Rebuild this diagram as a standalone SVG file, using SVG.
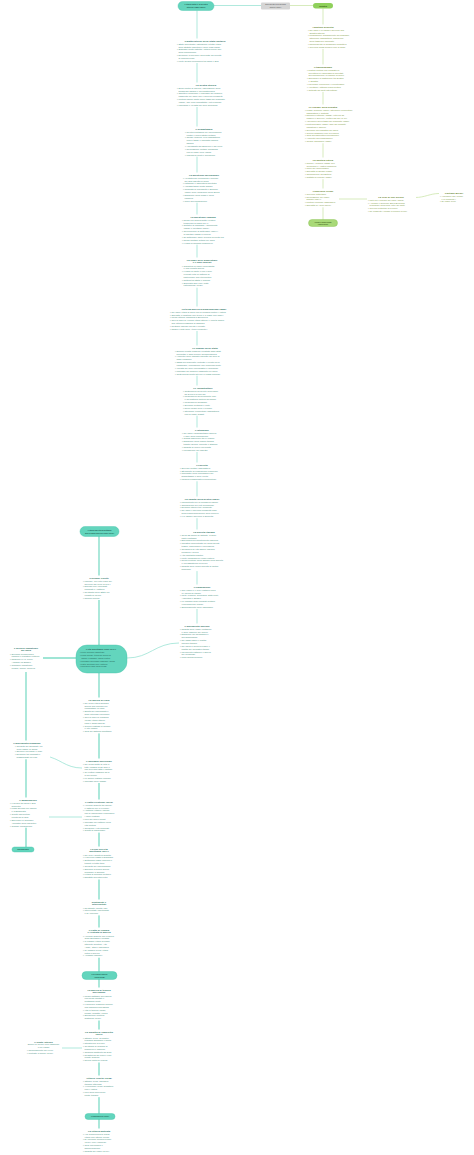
<svg xmlns="http://www.w3.org/2000/svg" width="474" height="1155" viewBox="0 0 474 1155">
<style>
.t{font-family:"Liberation Sans",Arial,sans-serif;font-size:2.3px;fill:#4d9486}
.h{font-family:"Liberation Sans",Arial,sans-serif;font-size:2.5px;font-weight:bold;fill:#2f7466;text-anchor:middle}
.tg{fill:#7f9d4a}
.hg{fill:#5f7f2a}
.bg{fill:#fff}
.pill{fill:#63d5bd;stroke:#45c2a8;stroke-width:0.4}
.pt{font-family:"Liberation Sans",Arial,sans-serif;font-size:2.1px;font-weight:bold;fill:#1f5e52;text-anchor:middle}
.pb{font-family:"Liberation Sans",Arial,sans-serif;font-size:2.1px;fill:#1f5e52}
.lt{stroke:#8ee0ce;fill:none;stroke-width:0.7}
.lk{stroke:#7fdcc7;fill:none;stroke-width:1.3}
.lg{stroke:#c5e2a0;fill:none;stroke-width:0.7}
</style>
<rect width="474" height="1155" fill="#fff"/>
<g id="connectors">
<path class="lt" d="M214,5.5 H261"/>
<path class="lg" d="M290,5.5 H313"/>
<path class="lt" d="M197,10.5 V626"/>
<path class="lg" d="M323,8.5 V220"/>
<path class="lg" d="M339,199 H367"/>
<path class="lg" d="M415,197.5 C425,197.5 430,193.5 439,193.5"/>
<path class="lk" d="M99,536 V1130"/>
<path class="lk" d="M77,658 H43"/>
<path class="lk" d="M26,672 V847"/>
<path class="lt" d="M45,756 C60,758 65,768 82,768"/>
<path class="lt" d="M49,817 H82"/>
<path class="lt" d="M61,1048 H82"/>
<path class="lt" d="M127,658 C150,658 155,643 179,643"/>
</g>

<g id="top-main">
<rect class="pill" x="178" y="1.5" width="36" height="9" rx="4.5"/>
<text class="pt" x="196" y="5.3">L'Italia unita e la Destra</text>
<text class="pt" x="196" y="8.3">storica (1861-1876)</text>
</g>
<g id="top-grey">
<rect x="261" y="2.5" width="29" height="7" rx="1" fill="#d5d5d5"/>
<text class="pb" x="275.5" y="5.4" style="font-size:1.9px;fill:#555;text-anchor:middle">Dalla Destra alla Sinistra</text>
<text class="pb" x="275.5" y="8" style="font-size:1.9px;fill:#555;text-anchor:middle">storica (1876)</text>
</g>
<g id="top-green">
<rect x="313" y="3" width="20" height="5.5" rx="2.75" fill="#8fd05b"/>
<text class="pt" x="323" y="6.6" style="fill:#2f4d12">Sinistra</text>
</g>

<g id="c1">
<rect class="bg" x="176" y="38.5" width="58" height="24.5"/>
<text class="h" x="205" y="41.5">Caratteristiche dello Stato unitario</text>
<text class="t" y="44.7"><tspan x="177">• Stato accentrato: estensione a tutta l'Italia</tspan><tspan x="178.5" dy="2.85">dello Statuto albertino e delle leggi sarde</tspan><tspan x="177" dy="2.85">• Suffragio molto ristretto: votava circa il 2%</tspan><tspan x="178.5" dy="2.85">della popolazione</tspan><tspan x="177" dy="2.85">• Divisione in province governate da prefetti</tspan><tspan x="178.5" dy="2.85">di nomina regia</tspan><tspan x="177" dy="2.85">• Forte divario economico tra Nord e Sud</tspan></text>
</g>
<g id="c2">
<rect class="bg" x="176" y="82.5" width="60" height="24.5"/>
<text class="h" x="206" y="85.5">La Destra storica</text>
<text class="t" y="88.7"><tspan x="177">• Eredi politici di Cavour, espressione della</tspan><tspan x="178.5" dy="2.85">borghesia agraria e dell'aristocrazia</tspan><tspan x="177" dy="2.85">• Obiettivo principale: il pareggio del bilancio,</tspan><tspan x="178.5" dy="2.85">raggiunto nel 1876 con il governo Minghetti</tspan><tspan x="177" dy="2.85">• Politica fiscale molto dura: tassa sul macinato</tspan><tspan x="178.5" dy="2.85">(1868), che colpì soprattutto i ceti popolari</tspan><tspan x="177" dy="2.85">• Liberismo e vendita dei beni demaniali</tspan></text>
</g>
<g id="c3">
<rect class="bg" x="184" y="126.5" width="40" height="30.2"/>
<text class="h" x="204" y="129.5">Il brigantaggio</text>
<text class="t" y="132.7"><tspan x="185">• Rivolta contadina nel Mezzogiorno</tspan><tspan x="186.5" dy="2.85">contro il nuovo Stato unitario</tspan><tspan x="185" dy="2.85">• Cause: miseria, leva obbligatoria,</tspan><tspan x="186.5" dy="2.85">nuove tasse e mancata riforma</tspan><tspan x="186.5" dy="2.85">agraria</tspan><tspan x="185" dy="2.85">• Appoggiato dai Borbone e dal clero</tspan><tspan x="185" dy="2.85">• Repressione militare durissima</tspan><tspan x="186.5" dy="2.85">con la legge Pica (1863)</tspan><tspan x="185" dy="2.85">• Migliaia di morti e fucilazioni</tspan></text>
</g>
<g id="c4">
<rect class="bg" x="182" y="172.5" width="44" height="30.2"/>
<text class="h" x="204" y="175.5">La questione meridionale</text>
<text class="t" y="178.7"><tspan x="183">• Arretratezza economica e sociale</tspan><tspan x="184.5" dy="2.85">del Sud rispetto al Nord</tspan><tspan x="183" dy="2.85">• Latifondo e agricoltura arretrata</tspan><tspan x="183" dy="2.85">• Analfabetismo molto diffuso</tspan><tspan x="183" dy="2.85">• Inchiesta di Franchetti e Sonnino</tspan><tspan x="184.5" dy="2.85">(1876) sulle condizioni della Sicilia</tspan><tspan x="183" dy="2.85">• Diffusione della mafia e della</tspan><tspan x="184.5" dy="2.85">camorra</tspan><tspan x="183" dy="2.85">• Inizio dell'emigrazione</tspan></text>
</g>
<g id="c5">
<rect class="bg" x="181" y="214.5" width="45" height="30.2"/>
<text class="h" x="203" y="217.5">La questione romana</text>
<text class="t" y="220.7"><tspan x="182">• Roma era ancora sotto il potere</tspan><tspan x="183.5" dy="2.85">temporale di papa Pio IX</tspan><tspan x="182" dy="2.85">• Tentativi di Garibaldi: Aspromonte</tspan><tspan x="183.5" dy="2.85">(1862) e Mentana (1867)</tspan><tspan x="182" dy="2.85">• Convenzione di settembre (1864):</tspan><tspan x="183.5" dy="2.85">la capitale passa a Firenze</tspan><tspan x="182" dy="2.85">• 20 settembre 1870: breccia di Porta Pia</tspan><tspan x="182" dy="2.85">• Roma capitale d'Italia nel 1871</tspan><tspan x="182" dy="2.85">• Il papa si dichiara prigioniero</tspan></text>
</g>
<g id="c6">
<rect class="bg" x="181" y="257.5" width="43" height="30.2"/>
<text class="h" x="202" y="260.5">La legge delle guarentigie</text>
<text class="h" x="202" y="263.3">e il Non expedit</text>
<text class="t" y="266.5"><tspan x="182">• Garantiva al papa l'inviolabilità</tspan><tspan x="183.5" dy="2.85">e una rendita annua</tspan><tspan x="182" dy="2.85">• Il papa la rifiutò e con il Non</tspan><tspan x="183.5" dy="2.85">expedit vietò ai cattolici di</tspan><tspan x="183.5" dy="2.85">partecipare alla vita politica</tspan><tspan x="182" dy="2.85">• Rottura tra Stato e Chiesa</tspan><tspan x="182" dy="2.85">• Superata solo con i Patti</tspan><tspan x="183.5" dy="2.85">Lateranensi (1929)</tspan></text>
</g>
<g id="c7">
<rect class="bg" x="169" y="306.5" width="70" height="24.5"/>
<text class="h" x="204" y="309.5">La terza guerra d'indipendenza (1866)</text>
<text class="t" y="312.7"><tspan x="170">• Nel 1866 l'Italia si allea con la Prussia contro l'Austria</tspan><tspan x="170" dy="2.85">• Sconfitte a Custoza (per terra) e a Lissa (per mare)</tspan><tspan x="170" dy="2.85">• Unica vittoria: Garibaldi a Bezzecca</tspan><tspan x="170" dy="2.85">• Con la pace di Vienna l'Italia ottiene il Veneto grazie</tspan><tspan x="171.5" dy="2.85">alla vittoria prussiana di Sadowa</tspan><tspan x="170" dy="2.85">• Restano escluse Trento e Trieste</tspan><tspan x="170" dy="2.85">• Nasce il mito delle «terre irredente»</tspan></text>
</g>
<g id="c8">
<rect class="bg" x="174" y="345.5" width="62" height="30.2"/>
<text class="h" x="205" y="348.5">Le finanze dello Stato</text>
<text class="t" y="351.7"><tspan x="175">• Enorme debito pubblico ereditato dagli Stati</tspan><tspan x="176.5" dy="2.85">preunitari e dalle guerre d'indipendenza</tspan><tspan x="175" dy="2.85">• Aumento delle imposte indirette sui beni di</tspan><tspan x="176.5" dy="2.85">largo consumo</tspan><tspan x="175" dy="2.85">• Tassa sul macinato: proteste e rivolte nelle</tspan><tspan x="176.5" dy="2.85">campagne, repressione con numerosi morti</tspan><tspan x="175" dy="2.85">• Vendita dei beni ecclesiastici e demaniali</tspan><tspan x="175" dy="2.85">• Pareggio del bilancio raggiunto nel 1876</tspan><tspan x="175" dy="2.85">• Costi sociali molto alti per le classi popolari</tspan></text>
</g>
<g id="c9">
<rect class="bg" x="182" y="385.5" width="42" height="30.2"/>
<text class="h" x="203" y="388.5">Le infrastrutture</text>
<text class="t" y="391.7"><tspan x="183">• Costruzione della rete ferroviaria:</tspan><tspan x="184.5" dy="2.85">da 2.000 a 8.000 km</tspan><tspan x="183" dy="2.85">• Unificazione della moneta (lira)</tspan><tspan x="184.5" dy="2.85">e del sistema metrico decimale</tspan><tspan x="183" dy="2.85">• Unificazione doganale</tspan><tspan x="183" dy="2.85">• Sviluppo di strade e porti</tspan><tspan x="183" dy="2.85">• Nuovi codici civile e penale</tspan><tspan x="183" dy="2.85">• Istruzione elementare obbligatoria</tspan><tspan x="184.5" dy="2.85">con la legge Casati</tspan></text>
</g>
<g id="c10">
<rect class="bg" x="181" y="427.5" width="42" height="24.5"/>
<text class="h" x="202" y="430.5">L'istruzione</text>
<text class="t" y="433.7"><tspan x="182">• Nel 1861 l'analfabetismo supera</tspan><tspan x="183.5" dy="2.85">il 75% della popolazione</tspan><tspan x="182" dy="2.85">• Grandi differenze tra le regioni</tspan><tspan x="182" dy="2.85">• Diffusione della lingua italiana</tspan><tspan x="183.5" dy="2.85">tramite scuola, esercito e stampa</tspan><tspan x="182" dy="2.85">• Nascita di nuove università</tspan><tspan x="182" dy="2.85">• Formazione dei maestri</tspan></text>
</g>
<g id="c11">
<rect class="bg" x="179" y="462.5" width="47" height="18.8"/>
<text class="h" x="202" y="465.5">L'esercito</text>
<text class="t" y="468.7"><tspan x="180">• Servizio militare obbligatorio</tspan><tspan x="180" dy="2.85">• Strumento di unificazione nazionale</tspan><tspan x="180" dy="2.85">• Impiegato nella repressione del</tspan><tspan x="181.5" dy="2.85">brigantaggio e delle rivolte</tspan><tspan x="180" dy="2.85">• Modello organizzativo piemontese</tspan></text>
</g>
<g id="c12">
<rect class="bg" x="179" y="496.5" width="47" height="21.7"/>
<text class="h" x="202" y="499.5">La caduta della Destra (1876)</text>
<text class="t" y="502.7"><tspan x="180">• Malcontento per la pressione fiscale</tspan><tspan x="180" dy="2.85">• Opposizione dei ceti meridionali</tspan><tspan x="180" dy="2.85">• Divisioni interne tra i moderati</tspan><tspan x="180" dy="2.85">• Nel 1876 il governo Minghetti cade</tspan><tspan x="181.5" dy="2.85">sulla nazionalizzazione delle ferrovie</tspan><tspan x="180" dy="2.85">• Il re affida il governo a Depretis</tspan></text>
</g>
<g id="c13">
<rect class="bg" x="179" y="529.5" width="50" height="41.6"/>
<text class="h" x="204" y="532.5">La società italiana</text>
<text class="t" y="535.7"><tspan x="180">• Circa 22 milioni di abitanti, in gran</tspan><tspan x="181.5" dy="2.85">parte contadini</tspan><tspan x="180" dy="2.85">• Economia prevalentemente agricola</tspan><tspan x="180" dy="2.85">• Industria concentrata nel Nord-Ovest:</tspan><tspan x="181.5" dy="2.85">tessile, siderurgica e meccanica</tspan><tspan x="180" dy="2.85">• Condizioni di vita difficili: malaria,</tspan><tspan x="181.5" dy="2.85">pellagra e colera</tspan><tspan x="180" dy="2.85">• Alta mortalità infantile</tspan><tspan x="180" dy="2.85">• Forte emigrazione verso l'estero</tspan><tspan x="180" dy="2.85">• Ruolo centrale della Chiesa nella società</tspan><tspan x="181.5" dy="2.85">e nell'assistenza ai poveri</tspan><tspan x="180" dy="2.85">• Nascita delle prime società di mutuo</tspan><tspan x="181.5" dy="2.85">soccorso</tspan></text>
</g>
<g id="c14">
<rect class="bg" x="179" y="584.5" width="47" height="24.5"/>
<text class="h" x="202" y="587.5">L'emigrazione</text>
<text class="t" y="590.7"><tspan x="180">• Tra il 1876 e il 1914 partono circa</tspan><tspan x="181.5" dy="2.85">14 milioni di italiani</tspan><tspan x="180" dy="2.85">• Mete: Francia, Germania, Stati Uniti,</tspan><tspan x="181.5" dy="2.85">Argentina e Brasile</tspan><tspan x="180" dy="2.85">• Le rimesse degli emigrati aiutano</tspan><tspan x="181.5" dy="2.85">l'economia del Paese</tspan><tspan x="180" dy="2.85">• Spopolamento delle campagne</tspan></text>
</g>
<g id="c15">
<rect class="bg" x="179" y="623.5" width="37" height="35.9"/>
<text class="h" x="197" y="626.5">Il movimento operaio</text>
<text class="t" y="629.7"><tspan x="180">• Nascita delle leghe contadine</tspan><tspan x="181.5" dy="2.85">e delle Camere del lavoro</tspan><tspan x="180" dy="2.85">• Diffusione del socialismo e</tspan><tspan x="181.5" dy="2.85">dell'anarchismo</tspan><tspan x="180" dy="2.85">• Nel 1882 nasce il Partito</tspan><tspan x="181.5" dy="2.85">operaio italiano</tspan><tspan x="180" dy="2.85">• Nel 1892 a Genova nasce il</tspan><tspan x="181.5" dy="2.85">Partito dei lavoratori italiani</tspan><tspan x="180" dy="2.85">• Movimento cattolico e Opera</tspan><tspan x="181.5" dy="2.85">dei congressi</tspan><tspan x="180" dy="2.85">• Primi grandi scioperi</tspan></text>
</g>

<g id="r1">
<rect class="bg" x="307" y="24.5" width="49" height="24.5"/>
<text class="h hg" x="323" y="27.5">Agostino Depretis</text>
<text class="t tg" y="30.7"><tspan x="308">• Nel 1876 il re affida il governo alla</tspan><tspan x="309.5" dy="2.85">Sinistra storica</tspan><tspan x="308" dy="2.85">• Programma: allargamento del suffragio,</tspan><tspan x="309.5" dy="2.85">istruzione obbligatoria, abolizione</tspan><tspan x="309.5" dy="2.85">della tassa sul macinato</tspan><tspan x="308" dy="2.85">• Rappresenta la borghesia produttiva</tspan><tspan x="308" dy="2.85">• Governa quasi sempre fino al 1887</tspan></text>
</g>
<g id="r2">
<rect class="bg" x="306" y="64.5" width="48" height="27.4"/>
<text class="h hg" x="323" y="67.5">Il trasformismo</text>
<text class="t tg" y="70.7"><tspan x="307">• Pratica politica che consisteva</tspan><tspan x="308.5" dy="2.85">nell'ottenere l'appoggio di deputati</tspan><tspan x="308.5" dy="2.85">dell'opposizione in cambio di favori</tspan><tspan x="307" dy="2.85">• Scompare la distinzione tra Destra</tspan><tspan x="308.5" dy="2.85">e Sinistra</tspan><tspan x="307" dy="2.85">• Favorisce corruzione e clientelismo</tspan><tspan x="307" dy="2.85">• Allontana i cittadini dalla politica</tspan><tspan x="307" dy="2.85">• Criticato da molti intellettuali</tspan></text>
</g>
<g id="r3">
<rect class="bg" x="304" y="104.5" width="52" height="38.8"/>
<text class="h hg" x="323" y="107.5">Le riforme della Sinistra</text>
<text class="t tg" y="110.7"><tspan x="305">• Legge Coppino (1877): istruzione elementare</tspan><tspan x="306.5" dy="2.85">obbligatoria e gratuita</tspan><tspan x="305" dy="2.85">• Riforma elettorale (1882): vota chi sa</tspan><tspan x="306.5" dy="2.85">leggere e scrivere, elettori dal 2% al 7%</tspan><tspan x="305" dy="2.85">• Abolizione della tassa sul macinato (1880)</tspan><tspan x="305" dy="2.85">• Protezionismo (1887): dazi sui prodotti</tspan><tspan x="306.5" dy="2.85">industriali e agricoli</tspan><tspan x="305" dy="2.85">• Sviluppo dell'industria del Nord</tspan><tspan x="305" dy="2.85">• Guerra doganale con la Francia</tspan><tspan x="305" dy="2.85">• Crisi dell'agricoltura meridionale</tspan><tspan x="305" dy="2.85">• Aumento dell'emigrazione</tspan><tspan x="305" dy="2.85">• Codice Zanardelli (1889)</tspan></text>
</g>
<g id="r4">
<rect class="bg" x="304" y="157.5" width="37" height="21.7"/>
<text class="h hg" x="323" y="160.5">La politica estera</text>
<text class="t tg" y="163.7"><tspan x="305">• Triplice Alleanza (1882) con</tspan><tspan x="306.5" dy="2.85">Germania e Austria-Ungheria</tspan><tspan x="305" dy="2.85">• Inizio del colonialismo</tspan><tspan x="305" dy="2.85">• Sconfitta di Dogali (1887)</tspan><tspan x="305" dy="2.85">• Occupazione dell'Eritrea</tspan><tspan x="305" dy="2.85">• Trattato di Uccialli (1889)</tspan></text>
</g>
<g id="r5">
<rect class="bg" x="304" y="188.5" width="35" height="18.8"/>
<text class="h hg" x="323" y="191.5">Francesco Crispi</text>
<text class="t tg" y="194.7"><tspan x="305">• Governo autoritario</tspan><tspan x="305" dy="2.85">• Repressione dei Fasci</tspan><tspan x="306.5" dy="2.85">siciliani (1894)</tspan><tspan x="305" dy="2.85">• Politica coloniale aggressiva</tspan><tspan x="305" dy="2.85">• Sconfitta di Adua (1896)</tspan></text>
</g>
<g id="r6">
<rect class="bg" x="367" y="194.5" width="49" height="18.8"/>
<text class="h hg" x="391" y="197.5">La crisi di fine secolo</text>
<text class="t tg" y="200.7"><tspan x="368">• Moti per il rincaro del pane (1898)</tspan><tspan x="368" dy="2.85">• A Milano il generale Bava Beccaris</tspan><tspan x="369.5" dy="2.85">fa sparare sulla folla: oltre 80 morti</tspan><tspan x="368" dy="2.85">• Governi autoritari di Pelloux</tspan><tspan x="368" dy="2.85">• Re Umberto I ucciso a Monza (1900)</tspan></text>
</g>
<g id="r7">
<rect class="bg" x="439" y="190.5" width="32" height="13.1"/>
<text class="h hg" x="454" y="193.5">Gaetano Bresci</text>
<text class="t tg" y="196.7"><tspan x="440">• Anarchico che uccise</tspan><tspan x="441.5" dy="2.85">il re Umberto I</tspan><tspan x="440" dy="2.85">• 29 luglio 1900</tspan></text>
</g>
<g id="r-end">
<rect x="308.5" y="219.5" width="29" height="7" rx="3.5" fill="#a8d977" stroke="#86c14f" stroke-width="0.4"/>
<text class="pt" x="323" y="222.6" style="font-size:1.9px;fill:#3d5a1c">Verso il Novecento</text>
<text class="pt" x="323" y="225.3" style="font-size:1.9px;fill:#3d5a1c">(1900-1901)</text>
</g>

<g id="l-top">
<rect class="pill" x="80" y="526.5" width="39" height="10" rx="5"/>
<text class="pt" x="99.5" y="530.8" style="font-size:2px">L'Italia dall'età giolittiana</text>
<text class="pt" x="99.5" y="534" style="font-size:2px">alla Grande guerra (1901-1919)</text>
</g>
<g id="l1">
<rect class="bg" x="82" y="575.5" width="36" height="24.5"/>
<text class="h" x="99" y="578.5">Giovanni Giolitti</text>
<text class="t" y="581.7"><tspan x="83">• Liberale, più volte capo del</tspan><tspan x="84.5" dy="2.85">governo dal 1901 al 1914</tspan><tspan x="83" dy="2.85">• Dialogo con i socialisti</tspan><tspan x="84.5" dy="2.85">riformisti e i cattolici</tspan><tspan x="83" dy="2.85">• Neutralità dello Stato nei</tspan><tspan x="84.5" dy="2.85">conflitti di lavoro</tspan><tspan x="83" dy="2.85">• Riforme sociali</tspan></text>
</g>
<g id="hub">
<rect class="pill" x="76" y="645" width="51" height="28" rx="11"/>
<text class="pt" x="101" y="649.8" style="font-size:2.3px">L'età giolittiana (1901-1914)</text>
<text class="pb" y="653.2"><tspan x="80">• Forte sviluppo industriale</tspan><tspan x="80" dy="2.85">• Leggi sociali: tutela del lavoro di</tspan><tspan x="81.5" dy="2.85">donne e bambini, riposo festivo</tspan><tspan x="80" dy="2.85">• Suffragio universale maschile (1912)</tspan><tspan x="80" dy="2.85">• Patto Gentiloni con i cattolici</tspan><tspan x="80" dy="2.85">• Guerra di Libia (1911-1912)</tspan></text>
</g>
<g id="ll1">
<rect class="bg" x="9" y="645.5" width="34" height="26"/>
<text class="h" x="26" y="648.5">Il decollo industriale</text>
<text class="h" x="26" y="651.3">del Nord</text>
<text class="t" y="654.5"><tspan x="10">• Sviluppo di siderurgia,</tspan><tspan x="11.5" dy="2.85">chimica e industria elettrica</tspan><tspan x="10" dy="2.85">• Nascono FIAT, Pirelli,</tspan><tspan x="11.5" dy="2.85">Ansaldo ed Edison</tspan><tspan x="10" dy="2.85">• Triangolo industriale:</tspan><tspan x="11.5" dy="2.85">Milano, Torino, Genova</tspan></text>
</g>
<g id="ll2">
<rect class="bg" x="14" y="740.5" width="36" height="18.8"/>
<text class="h" x="27" y="743.5">Il movimento sindacale</text>
<text class="t" y="746.7"><tspan x="15">• Crescita dei sindacati: nel</tspan><tspan x="16.5" dy="2.85">1906 nasce la CGdL</tspan><tspan x="15" dy="2.85">• Scioperi per salari e orari</tspan><tspan x="15" dy="2.85">• Divisione tra riformisti e</tspan><tspan x="16.5" dy="2.85">massimalisti nel PSI</tspan></text>
</g>
<g id="ll3">
<rect class="bg" x="9" y="797.5" width="40" height="30.2"/>
<text class="h" x="28" y="800.5">Il Mezzogiorno</text>
<text class="t" y="803.7"><tspan x="10">• Il divario tra Nord e Sud</tspan><tspan x="11.5" dy="2.85">aumenta</tspan><tspan x="10" dy="2.85">• Leggi speciali per Napoli</tspan><tspan x="11.5" dy="2.85">e la Basilicata</tspan><tspan x="10" dy="2.85">• Giolitti usa metodi</tspan><tspan x="11.5" dy="2.85">clientelari al Sud</tspan><tspan x="10" dy="2.85">• Salvemini lo definisce</tspan><tspan x="11.5" dy="2.85">«ministro della malavita»</tspan><tspan x="10" dy="2.85">• Grande emigrazione</tspan></text>
</g>
<g id="ll-end">
<rect class="pill" x="12" y="847" width="22" height="5" rx="2.5"/>
<text class="pt" x="23" y="850.3" style="font-size:1.8px">Nazionalismo</text>
</g>
<g id="l2">
<rect class="bg" x="82" y="697.5" width="34" height="35.9"/>
<text class="h" x="99" y="700.5">La guerra di Libia</text>
<text class="t" y="703.7"><tspan x="83">• Nel 1911 l'Italia dichiara</tspan><tspan x="84.5" dy="2.85">guerra alla Turchia per</tspan><tspan x="84.5" dy="2.85">conquistare la Libia</tspan><tspan x="83" dy="2.85">• Spinta dei nazionalisti e</tspan><tspan x="84.5" dy="2.85">degli interessi economici</tspan><tspan x="83" dy="2.85">• Con la pace di Losanna</tspan><tspan x="84.5" dy="2.85">(1912) l'Italia ottiene</tspan><tspan x="84.5" dy="2.85">Libia e Dodecaneso</tspan><tspan x="83" dy="2.85">• Guerra costosa in denaro</tspan><tspan x="84.5" dy="2.85">e vite umane</tspan><tspan x="83" dy="2.85">• Crisi del sistema giolittiano</tspan></text>
</g>
<g id="l3">
<rect class="bg" x="82" y="758.5" width="36" height="24.5"/>
<text class="h" x="99" y="761.5">Il suffragio universale</text>
<text class="t" y="764.7"><tspan x="83">• Nel 1912 diritto di voto a</tspan><tspan x="84.5" dy="2.85">tutti i maschi di 30 anni o</tspan><tspan x="84.5" dy="2.85">che avevano fatto il militare</tspan><tspan x="83" dy="2.85">• Gli elettori passano da 3</tspan><tspan x="84.5" dy="2.85">a 8,5 milioni</tspan><tspan x="83" dy="2.85">• Le donne restano escluse</tspan><tspan x="83" dy="2.85">• Ingresso delle masse</tspan></text>
</g>
<g id="l4">
<rect class="bg" x="82" y="799.5" width="36" height="33.1"/>
<text class="h" x="99" y="802.5">Il Patto Gentiloni (1913)</text>
<text class="t" y="805.7"><tspan x="83">• Accordo segreto tra liberali</tspan><tspan x="84.5" dy="2.85">e cattolici per le elezioni</tspan><tspan x="83" dy="2.85">• I cattolici votano i liberali</tspan><tspan x="84.5" dy="2.85">che si impegnano a difendere</tspan><tspan x="84.5" dy="2.85">i valori cristiani</tspan><tspan x="83" dy="2.85">• Fine del Non expedit</tspan><tspan x="83" dy="2.85">• Ingresso dei cattolici nella</tspan><tspan x="84.5" dy="2.85">vita politica</tspan><tspan x="83" dy="2.85">• Crescono i voti socialisti</tspan><tspan x="83" dy="2.85">• Giolitti si indebolisce</tspan></text>
</g>
<g id="l5">
<rect class="bg" x="82" y="846.5" width="36" height="33"/>
<text class="h" x="99" y="849.5">La fine dell'età</text>
<text class="h" x="99" y="852.3">giolittiana (1914)</text>
<text class="t" y="855.5"><tspan x="83">• Nel 1914 Giolitti si dimette</tspan><tspan x="83" dy="2.85">• Il governo passa a Salandra</tspan><tspan x="83" dy="2.85">• Settimana rossa: scioperi e</tspan><tspan x="84.5" dy="2.85">tumulti in tutta Italia</tspan><tspan x="83" dy="2.85">• Crescita del nazionalismo</tspan><tspan x="83" dy="2.85">• Scoppia la Prima guerra</tspan><tspan x="84.5" dy="2.85">mondiale in Europa</tspan><tspan x="83" dy="2.85">• L'Italia si dichiara neutrale</tspan><tspan x="83" dy="2.85">• Dibattito sull'intervento</tspan></text>
</g>
<g id="l6">
<rect class="bg" x="82" y="899.5" width="36" height="15.9"/>
<text class="h" x="99" y="902.5">Neutralisti e</text>
<text class="h" x="99" y="905.3">interventisti</text>
<text class="t" y="908.5"><tspan x="83">• Neutralisti: Giolitti, PSI</tspan><tspan x="83" dy="2.85">• Interventisti: nazionalisti</tspan><tspan x="84.5" dy="2.85">e D'Annunzio</tspan></text>
</g>
<g id="l7">
<rect class="bg" x="82" y="927.5" width="36" height="30.2"/>
<text class="h" x="99" y="930.5">Il Patto di Londra</text>
<text class="h" x="99" y="933.3">e l'entrata in guerra</text>
<text class="t" y="936.5"><tspan x="83">• Accordo segreto con Francia,</tspan><tspan x="84.5" dy="2.85">Gran Bretagna e Russia</tspan><tspan x="83" dy="2.85">• In cambio l'Italia avrebbe</tspan><tspan x="84.5" dy="2.85">ottenuto Trentino, Alto</tspan><tspan x="84.5" dy="2.85">Adige, Istria e Dalmazia</tspan><tspan x="83" dy="2.85">• 24 maggio 1915: l'Italia</tspan><tspan x="84.5" dy="2.85">entra in guerra</tspan><tspan x="83" dy="2.85">• «Maggio radioso»</tspan></text>
</g>
<g id="t2">
<rect class="pill" x="82" y="971.5" width="35" height="8" rx="4"/>
<text class="pt" x="99.5" y="975.1" style="font-size:1.9px">La Grande guerra</text>
<text class="pt" x="99.5" y="978" style="font-size:1.9px">(1915-1918)</text>
</g>
<g id="l8">
<rect class="bg" x="82" y="987.5" width="36" height="33"/>
<text class="h" x="99" y="990.5">La guerra di trincea</text>
<text class="h" x="99" y="993.3">sull'Isonzo</text>
<text class="t" y="996.5"><tspan x="83">• Undici battaglie dell'Isonzo</tspan><tspan x="84.5" dy="2.85">con pochi risultati e</tspan><tspan x="84.5" dy="2.85">moltissimi morti</tspan><tspan x="83" dy="2.85">• Il generale Cadorna impone</tspan><tspan x="84.5" dy="2.85">una disciplina durissima</tspan><tspan x="83" dy="2.85">• Vita in trincea: fango,</tspan><tspan x="84.5" dy="2.85">freddo, malattie, paura</tspan><tspan x="83" dy="2.85">• Spedizione punitiva</tspan><tspan x="84.5" dy="2.85">austriaca (1916)</tspan></text>
</g>
<g id="l9">
<rect class="bg" x="82" y="1029.5" width="36" height="33"/>
<text class="h" x="99" y="1032.5">La disfatta di Caporetto</text>
<text class="h" x="99" y="1035.3">(1917)</text>
<text class="t" y="1038.5"><tspan x="83">• Ottobre 1917: gli austro-</tspan><tspan x="84.5" dy="2.85">tedeschi sfondano il fronte</tspan><tspan x="83" dy="2.85">• Ritirata fino al Piave</tspan><tspan x="83" dy="2.85">• Centinaia di migliaia di</tspan><tspan x="84.5" dy="2.85">prigionieri e dispersi</tspan><tspan x="83" dy="2.85">• Cadorna sostituito da Diaz</tspan><tspan x="83" dy="2.85">• Resistenza sul Piave e sul</tspan><tspan x="84.5" dy="2.85">Monte Grappa</tspan><tspan x="83" dy="2.85">• Nuova unità nel Paese</tspan></text>
</g>
<g id="lb">
<rect class="bg" x="26" y="1040" width="36" height="15"/>
<text class="h" x="43.5" y="1042.5">Il fronte interno</text>
<text class="t" x="43.5" y="1045.2" text-anchor="middle">Donne al lavoro nelle fabbriche</text>
<text class="t" x="43.5" y="1047.8" text-anchor="middle">e nei campi</text>
<text class="t" y="1051.2"><tspan x="27">• Razionamento dei viveri</tspan><tspan x="27" dy="2.85">• Proteste a Torino (1917)</tspan></text>
</g>
<g id="l10">
<rect class="bg" x="82" y="1075.5" width="36" height="21.7"/>
<text class="h" x="99" y="1078.5">Vittorio Veneto (1918)</text>
<text class="t" y="1081.7"><tspan x="83">• Ottobre 1918: offensiva</tspan><tspan x="84.5" dy="2.85">italiana vittoriosa</tspan><tspan x="83" dy="2.85">• 4 novembre 1918: armistizio</tspan><tspan x="84.5" dy="2.85">con l'Austria</tspan><tspan x="83" dy="2.85">• Fine della guerra sul</tspan><tspan x="84.5" dy="2.85">fronte italiano</tspan></text>
</g>
<g id="t3">
<rect class="pill" x="85" y="1113.5" width="30" height="6" rx="3"/>
<text class="pt" x="100" y="1117.3" style="font-size:1.9px">Il dopoguerra (1919)</text>
</g>
<g id="l11">
<rect class="bg" x="82" y="1128.5" width="36" height="24.5"/>
<text class="h" x="99" y="1131.5">La vittoria mutilata</text>
<text class="t" y="1134.7"><tspan x="83">• Alla Conferenza di Parigi</tspan><tspan x="84.5" dy="2.85">l'Italia non ottiene Fiume</tspan><tspan x="83" dy="2.85">• D'Annunzio occupa Fiume</tspan><tspan x="84.5" dy="2.85">(1919) con i legionari</tspan><tspan x="83" dy="2.85">• Crisi economica e</tspan><tspan x="84.5" dy="2.85">disoccupazione</tspan><tspan x="83" dy="2.85">• Nascita dei Fasci (1919)</tspan></text>
</g>
</svg>
